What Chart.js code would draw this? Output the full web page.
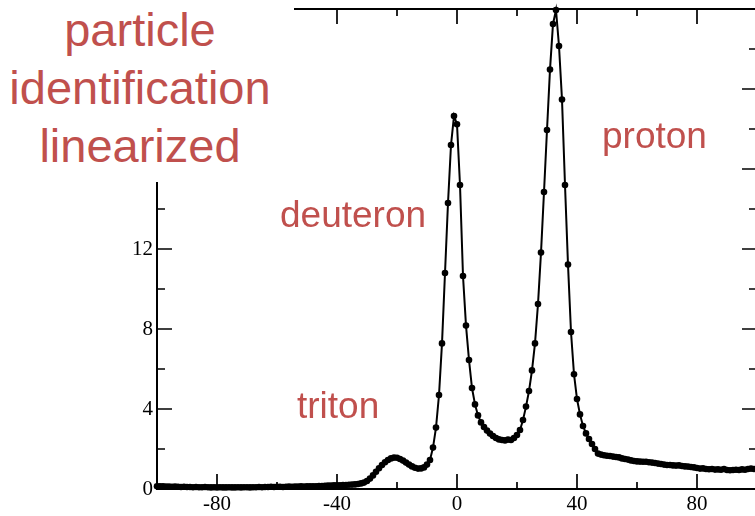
<!DOCTYPE html>
<html>
<head>
<meta charset="utf-8">
<script src="https://cdn.jsdelivr.net/npm/chart.js@4/dist/chart.umd.min.js"></script>
<style>
  html, body { margin: 0; padding: 0; background: #fff; overflow: hidden; }
  #wrap { position: relative; width: 770px; height: 516px; }
  #title {
    position: absolute; left: 0; top: 0; width: 294px; height: 182px;
    padding-right: 14px; padding-top: 1px; box-sizing: border-box;
    background: #fff; color: #c0504d; text-align: center;
    font-family: "Liberation Sans", Arial, sans-serif; font-size: 47px; line-height: 58px;
  }
  .label {
    position: absolute; color: #c0504d; white-space: nowrap;
    font-family: "Liberation Sans", Arial, sans-serif; font-size: 37px; line-height: 37px;
  }
</style>
</head>
<body>
<div id="wrap">
  <canvas id="pid" width="770" height="516"></canvas>
  <div id="title">particle<br>identification<br>linearized</div>
  <div class="label" style="left:280px; top:196px;">deuteron</div>
  <div class="label" style="left:297px; top:387px;">triton</div>
  <div class="label" style="left:602px; top:117px;">proton</div>
</div>
<script>
// Data: one sample per unit, x from -100 to 100
const xFirst = -100;
const counts = [
  // -100 .. -91
  0.14, 0.13, 0.13, 0.12, 0.12, 0.11, 0.12, 0.11, 0.10, 0.11,
  // -90 .. -81
  0.10, 0.10, 0.09, 0.10, 0.09, 0.09, 0.10, 0.09, 0.08, 0.09,
  // -80 .. -71
  0.08, 0.09, 0.08, 0.08, 0.09, 0.08, 0.08, 0.09, 0.08, 0.09,
  // -70 .. -61
  0.09, 0.08, 0.09, 0.09, 0.10, 0.09, 0.10, 0.10, 0.11, 0.10,
  // -60 .. -51
  0.11, 0.11, 0.10, 0.11, 0.12, 0.11, 0.12, 0.12, 0.13, 0.12,
  // -50 .. -41
  0.13, 0.13, 0.14, 0.14, 0.15, 0.15, 0.16, 0.17, 0.17, 0.18,
  // -40 .. -31
  0.19, 0.19, 0.20, 0.20, 0.21, 0.22, 0.23, 0.25, 0.28, 0.32,
  // -30 .. -21
  0.40, 0.52, 0.68, 0.86, 1.04, 1.20, 1.34, 1.45, 1.53, 1.57,
  // -20 .. -11
  1.56, 1.50, 1.42, 1.32, 1.22, 1.13, 1.06, 1.02, 1.03, 1.08,
  // -10 .. -1
  1.22, 1.45, 2.07, 3.07, 4.70, 7.28, 10.8, 14.3, 17.2, 18.65,
  // 0 .. 9
  18.24, 15.2, 10.65, 8.17, 6.45, 5.05, 4.23, 3.68, 3.33, 3.10,
  // 10 .. 19
  2.92, 2.77, 2.65, 2.55, 2.48, 2.45, 2.43, 2.47, 2.45, 2.55,
  // 20 .. 29
  2.70, 2.95, 3.45, 4.12, 4.90, 5.93, 7.28, 9.25, 11.82, 14.85,
  // 30 .. 39
  17.95, 20.97, 23.25, 23.95, 22.15, 19.47, 15.2, 11.22, 7.85, 5.74,
  // 40 .. 49
  4.50, 3.73, 3.15, 2.78, 2.50, 2.25, 2.00, 1.77, 1.72, 1.69,
  // 50 .. 59
  1.66, 1.65, 1.62, 1.60, 1.58, 1.53, 1.50, 1.47, 1.43, 1.40,
  // 60 .. 69
  1.38, 1.37, 1.36, 1.36, 1.34, 1.32, 1.30, 1.27, 1.25, 1.22,
  // 70 .. 79
  1.20, 1.20, 1.18, 1.17, 1.18, 1.15, 1.13, 1.12, 1.10, 1.08,
  // 80 .. 89
  1.05, 1.02, 1.03, 1.00, 0.99, 1.00, 0.97, 0.98, 0.96, 1.00,
  // 90 .. 100
  0.95, 0.94, 0.95, 0.96, 0.95, 0.98, 0.96, 1.00, 1.02, 1.00,
  1.00
];

const xTickLabels = [-80, -40, 0, 40, 80];
const yTickLabels = [0, 4, 8, 12];
const xRange = [-100, 100];
const yRange = [0, 24];

const points = counts.map((v, i) => ({ x: xFirst + i, y: v }));

// Inward ticks plus top/right frame, like the original plot
const frameTicks = {
  id: 'frameTicks',
  afterDraw(chart) {
    const ctx = chart.ctx;
    const xs = chart.scales.x, ys = chart.scales.y;
    const { left, right, top, bottom } = chart.chartArea;
    ctx.save();
    ctx.strokeStyle = '#000';
    ctx.lineWidth = 2;
    ctx.beginPath();
    ctx.moveTo(left, top); ctx.lineTo(right, top);
    ctx.moveTo(right, top); ctx.lineTo(right, bottom);
    ctx.stroke();

    ctx.lineWidth = 1.7;
    ctx.beginPath();
    for (let v = xRange[0] + 20; v < xRange[1]; v += 20) {
      const px = Math.round(xs.getPixelForValue(v));
      const len = v % 40 === 0 ? 15 : 7;
      ctx.moveTo(px, bottom); ctx.lineTo(px, bottom - len);
      ctx.moveTo(px, top); ctx.lineTo(px, top + len);
    }
    for (let v = yRange[0] + 2; v < yRange[1]; v += 2) {
      const py = Math.round(ys.getPixelForValue(v));
      const len = v % 4 === 0 ? 15 : 8;
      ctx.moveTo(left, py); ctx.lineTo(left + len, py);
      ctx.moveTo(right, py); ctx.lineTo(right - len, py);
    }
    ctx.stroke();
    ctx.restore();
  }
};

const tickFont = { family: '"Liberation Serif", "Times New Roman", serif', size: 21 };

new Chart(document.getElementById('pid'), {
  type: 'line',
  data: {
    datasets: [{
      data: points,
      borderColor: '#000',
      borderWidth: 2,
      pointRadius: 3.3,
      pointBackgroundColor: '#000',
      pointBorderWidth: 0,
      tension: 0,
      clip: false
    }]
  },
  options: {
    responsive: false,
    animation: false,
    devicePixelRatio: 1,
    layout: { padding: { top: 9, right: 13, left: 0, bottom: 0 } },
    plugins: { legend: { display: false }, tooltip: { enabled: false } },
    scales: {
      x: {
        type: 'linear',
        min: xRange[0],
        max: xRange[1],
        afterBuildTicks: (s) => { s.ticks = xTickLabels.map(v => ({ value: v })); },
        afterFit: (s) => { s.height = 27; s.paddingLeft = 0; s.paddingRight = 0; },
        grid: { display: false, drawTicks: false },
        border: { display: true, color: '#000', width: 2 },
        ticks: { padding: 3, color: '#000', font: tickFont }
      },
      y: {
        min: yRange[0],
        max: yRange[1],
        afterBuildTicks: (s) => { s.ticks = yTickLabels.map(v => ({ value: v })); },
        afterFit: (s) => { s.width = 157; s.paddingTop = 0; s.paddingBottom = 0; },
        grid: { display: false, drawTicks: false },
        border: { display: true, color: '#000', width: 2 },
        ticks: { padding: 4, color: '#000', font: tickFont }
      }
    }
  },
  plugins: [frameTicks]
});
</script>
</body>
</html>
